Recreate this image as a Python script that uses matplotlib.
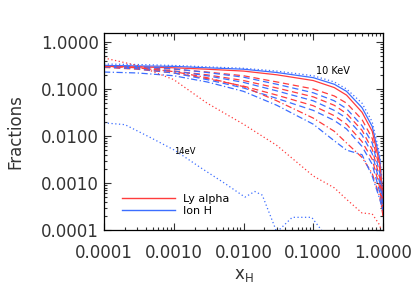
import matplotlib
matplotlib.use('Agg')
import matplotlib.pyplot as plt
from matplotlib.lines import Line2D
import numpy as np

# common x grid (fraction of neutral H)
xh = [0.0001, 0.0003, 0.001, 0.003, 0.01, 0.03, 0.1, 0.2, 0.3, 0.5, 0.7, 0.9, 1.0]

# Ly alpha (red) and ion H (blue) fractions
ion_10kev_dot = [0.339, 0.331, 0.316, 0.295, 0.275, 0.240, 0.191, 0.141, 0.100, 0.050, 0.020, 0.0040, 0.00063]
ion_solid = [0.316, 0.309, 0.302, 0.282, 0.263, 0.224, 0.174, 0.126, 0.089, 0.040, 0.016, 0.0032, 0.0004]
lya_solid = [0.302, 0.295, 0.282, 0.263, 0.240, 0.200, 0.151, 0.107, 0.074, 0.032, 0.0126, 0.0025, 0.0005]
lya_dash1 = [0.302, 0.288, 0.263, 0.229, 0.191, 0.141, 0.100, 0.071, 0.050, 0.0224, 0.0089, 0.0020, 0.00032]
ion_dash1 = [0.316, 0.302, 0.269, 0.224, 0.178, 0.126, 0.083, 0.056, 0.038, 0.0166, 0.0071, 0.0016, 0.0004]
lya_dash2 = [0.295, 0.275, 0.240, 0.200, 0.151, 0.105, 0.068, 0.045, 0.030, 0.0132, 0.0052, 0.00126, 0.00025]
ion_dash2 = [0.302, 0.282, 0.240, 0.191, 0.138, 0.091, 0.056, 0.035, 0.024, 0.0105, 0.0042, 0.0010, 0.00032]
lya_dash3 = [0.288, 0.263, 0.219, 0.166, 0.115, 0.074, 0.044, 0.027, 0.0178, 0.0076, 0.0032, 0.00079, 0.0002]
ion_dash3 = [0.295, 0.269, 0.219, 0.158, 0.105, 0.063, 0.035, 0.0214, 0.0141, 0.0060, 0.0025, 0.00063, 0.00025]
lya_dashdot = [0.302, 0.282, 0.234, 0.174, 0.112, 0.056, 0.024, 0.0126, 0.0071, 0.0035, 0.0016, 0.0005, 0.0002]
ion_dashdot = [0.229, 0.219, 0.191, 0.141, 0.089, 0.045, 0.0178, 0.0079, 0.0050, 0.0040, 0.0014, 0.00045, 0.00025]
lya_14ev = [0.457, 0.316, 0.158, 0.050, 0.0178, 0.0063, 0.00141, 0.00079, 0.00045, 0.00023, 0.00022, 0.000126, 0.000063]

# 14 eV ion H curve is noisy, has its own x points
x_14ev = [0.0001, 0.0002, 0.00046, 0.00105, 0.0024, 0.0054, 0.0105, 0.0145, 0.0186, 0.030, 0.050, 0.095, 0.138]
ion_14ev = [0.019, 0.0174, 0.0093, 0.0049, 0.00214, 0.00098, 0.0005, 0.00066, 0.00055, 0.00009, 0.000186, 0.000186, 0.00009]

xticks = [0.0001, 0.001, 0.01, 0.1, 1.0]
yticks = [0.0001, 0.001, 0.01, 0.1, 1.0]
tick_labels = ['0.0001', '0.0010', '0.0100', '0.1000', '1.0000']

red = '#ff3c3c'
blue = '#3c6eff'
dot = (0, (1, 2))
dash = (0, (5, 3))
dashdot = (0, (5, 2, 1, 2))

fig = plt.figure(figsize=(4.15, 2.97), dpi=100)
ax = fig.add_axes([0.2506, 0.2256, 0.6723, 0.6633])

lw = 0.9
ax.plot(xh, ion_10kev_dot, color=blue, ls=dot, lw=lw)
ax.plot(xh, ion_solid, color=blue, ls='-', lw=lw)
ax.plot(xh, lya_solid, color=red, ls='-', lw=lw)
ax.plot(xh, lya_dash1, color=red, ls=dash, lw=lw)
ax.plot(xh, ion_dash1, color=blue, ls=dash, lw=lw)
ax.plot(xh, lya_dash2, color=red, ls=dash, lw=lw)
ax.plot(xh, ion_dash2, color=blue, ls=dash, lw=lw)
ax.plot(xh, lya_dash3, color=red, ls=dash, lw=lw)
ax.plot(xh, ion_dash3, color=blue, ls=dash, lw=lw)
ax.plot(xh, lya_dashdot, color=red, ls=dashdot, lw=lw)
ax.plot(xh, ion_dashdot, color=blue, ls=dashdot, lw=lw)
ax.plot(xh, lya_14ev, color=red, ls=dot, lw=lw)
ax.plot(x_14ev, ion_14ev, color=blue, ls=dot, lw=lw)

ax.set_xscale('log')
ax.set_yscale('log')
ax.set_xlim(0.0001, 1.0)
ax.set_ylim(0.0001, 1.55)
ax.set_xticks(xticks)
ax.set_xticklabels(tick_labels)
ax.set_yticks(yticks)
ax.set_yticklabels(tick_labels)
ax.tick_params(which='both', direction='in', top=True, right=True, labelsize=12,
               colors='#333333', width=0.8)
ax.tick_params(axis='x', which='major', pad=10)
ax.tick_params(which='major', length=5)
ax.tick_params(which='minor', length=2.5)
for s in ax.spines.values():
    s.set_linewidth(0.9)

ax.set_ylabel('Fractions', fontsize=12, color='#333333', labelpad=12)
ax.set_xlabel('x$_{\\rm H}$', fontsize=12, color='#333333', labelpad=3)

ax.text(0.11, 0.21, '10 KeV', fontsize=7)
ax.text(0.001, 0.0042, '14eV', fontsize=6)

handles = [Line2D([], [], color=red, lw=1), Line2D([], [], color=blue, lw=1)]
ax.legend(handles, ['Ly alpha', 'Ion H'], loc='lower left', bbox_to_anchor=(0.045, 0.045),
          frameon=False, fontsize=8, handlelength=4.8, handletextpad=0.7,
          labelspacing=0.15, borderpad=0)

fig.savefig('out.png', dpi=100)
